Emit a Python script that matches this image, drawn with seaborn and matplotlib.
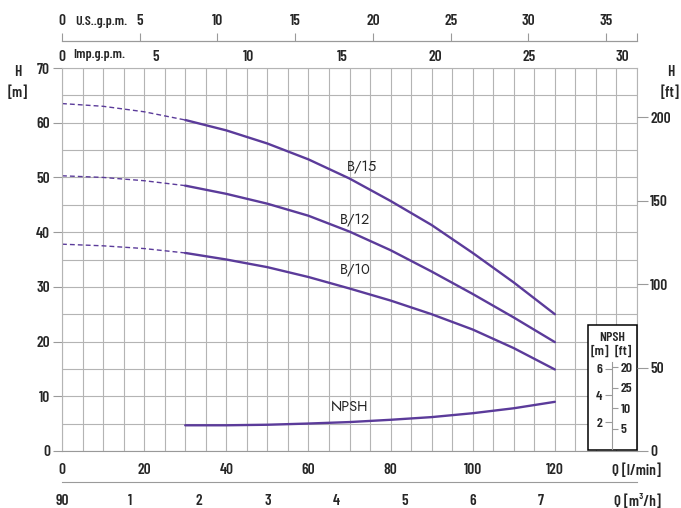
import numpy as np
import pandas as pd
import seaborn as sns
import matplotlib.pyplot as plt
from matplotlib.patches import Rectangle
from matplotlib.ticker import MultipleLocator

# pump curves, Q in l/min, H in m
q = [0, 10, 20, 30, 40, 50, 60, 70, 80, 90, 100, 110, 120]
h_b15 = [63.5, 63.0, 62.0, 60.5, 58.6, 56.2, 53.3, 49.8, 45.7, 41.3, 36.2, 30.8, 25.0]
h_b12 = [50.3, 50.0, 49.4, 48.5, 47.0, 45.2, 43.0, 40.1, 36.7, 32.8, 28.7, 24.4, 19.9]
h_b10 = [37.8, 37.5, 37.0, 36.2, 35.0, 33.6, 31.8, 29.7, 27.5, 25.0, 22.2, 18.8, 14.9]
models = ["B/15", "B/12", "B/10"]
label_pos = {"B/15": (73, 51.9), "B/12": (71.3, 42.2), "B/10": (71.3, 33.1)}
q_dash_end = 30

q_npsh = [30, 40, 50, 60, 70, 80, 90, 100, 110, 120]
npsh_m = [1.77, 1.77, 1.81, 1.90, 2.01, 2.18, 2.38, 2.67, 3.04, 3.52]

lmin_ticks = [0, 20, 40, 60, 80, 100, 120, 140]
lmin_labels = ["0", "20", "40", "60", "80", "100", "120", "Q [l/min]"]
m3h_ticks = [0, 1, 2, 3, 4, 5, 6, 7, 8, 8.4]
m3h_labels = ["90", "1", "2", "3", "4", "5", "6", "7", "", "Q [m³/h]"]
us_ticks = [0, 5, 10, 15, 20, 25, 30, 35, 140 / 3.785]
us_labels = ["0", "5", "10", "15", "20", "25", "30", "35", ""]
imp_ticks = [0, 5, 10, 15, 20, 25, 30, 140 / 4.546]
imp_labels = ["0", "5", "10", "15", "20", "25", "30", ""]
ft_ticks = [0, 50, 100, 150, 200]
npsh_m_ticks = [2, 4, 6]
npsh_ft_ticks = [5, 10, 15, 20]
npsh_ft_labels = ["5", "10", "25", "20"]

df = pd.DataFrame({
    "Q": q * 3,
    "H": h_b15 + h_b12 + h_b10,
    "model": [m for m in models for _ in q],
})

sns.set_style("white")
cond = ["Barlow Condensed", "Roboto Condensed", "Liberation Sans Narrow", "DejaVu Sans"]
wide = ["Jost", "Questrial", "DejaVu Sans"]
plt.rcParams["font.family"] = cond
plt.rcParams["font.weight"] = "semibold"
plt.rcParams["font.size"] = 11

W, H = 681, 508
fig = plt.figure(figsize=(W / 100, H / 100), dpi=100)
px = lambda x: x / W
py = lambda y: 1 - y / H

purple = "#5b3b9a"
grid_c = "#b4b4b4"
tick_c = "#9a9a9a"

ax = fig.add_axes([px(62), py(451), px(637) - px(62), py(68) - py(451)])
ax.set_xlim(0, 140)
ax.set_ylim(0, 70)
ax.xaxis.set_minor_locator(MultipleLocator(5))
ax.yaxis.set_minor_locator(MultipleLocator(5))
ax.set_xticks(lmin_ticks)
ax.set_xticklabels(lmin_labels)
ax.set_yticks(range(0, 71, 10))
ax.grid(True, which="both", color=grid_c, lw=0.8)
ax.set_axisbelow(True)
ax.tick_params(which="minor", length=0)
ax.tick_params(axis="x", which="major", length=4.5, pad=4.5, color=tick_c, width=0.8)
ax.tick_params(axis="y", which="major", length=6.5, pad=2, color=tick_c, width=0.8)
for s in ax.spines.values():
    s.set_color(grid_c)
    s.set_linewidth(0.8)
ax.spines["bottom"].set_color("#999999")

for m in models:
    d = df[df["model"] == m]
    sns.lineplot(data=d[d["Q"] <= q_dash_end], x="Q", y="H", ax=ax, color=purple,
                 lw=1.0, linestyle=(0, (3.5, 2.2)))
    sns.lineplot(data=d[d["Q"] >= q_dash_end], x="Q", y="H", ax=ax, color=purple, lw=1.7)
    ax.text(*label_pos[m], m, family=wide, fontweight="medium", fontsize=10.5,
            ha="center", va="center")
ax.set_xlabel("")
ax.set_ylabel("")

# right ft axis
ax_ft = ax.twinx()
ax_ft.set_ylim(0, 70 * 3.281)
ax_ft.set_yticks(ft_ticks)
ax_ft.tick_params(axis="y", length=8, pad=1.5, color=tick_c, width=0.8)
for s in ax_ft.spines.values():
    s.set_visible(False)

# NPSH scale, 0 m at y=449 px and 13.4 px per m
npsh_zero, npsh_ppm = 449, 13.4
ax_np = ax.twinx()
ax_np.set_ylim((npsh_zero - 451) / npsh_ppm, (npsh_zero - 68) / npsh_ppm)
ax_np.axis("off")
sns.lineplot(x=q_npsh, y=npsh_m, ax=ax_np, color=purple, lw=1.7)
ax.text(70.1, 8.0, "NPSH", family=wide, fontweight="medium", fontsize=10.5,
        ha="center", va="center")

box = Rectangle(((588 - 62) / 575 * 140, 0.1), 140 - (588 - 62) / 575 * 140,
                (451 - 326) / 383 * 70, facecolor="white", edgecolor="black",
                lw=1.1, zorder=3, clip_on=False)
ax.add_patch(box)

top_np = 361.7
ax_sm = fig.add_axes([px(612), py(npsh_zero), 1e-6, py(top_np) - py(npsh_zero)])
ax_sm.set_ylim(0, (npsh_zero - top_np) / npsh_ppm)
ax_sm.set_yticks(npsh_m_ticks)
ax_sm.set_xticks([])
ax_sm.tick_params(axis="y", length=5, pad=2, color=tick_c, width=0.8, labelsize=10)
for s in ["top", "bottom", "right"]:
    ax_sm.spines[s].set_visible(False)
ax_sm.spines["left"].set_color(tick_c)
ax_sm.spines["left"].set_linewidth(0.8)
ax_sf = ax_sm.twinx()
ax_sf.set_ylim(0, (npsh_zero - top_np) / npsh_ppm * 3.281)
ax_sf.set_yticks(npsh_ft_ticks)
ax_sf.set_yticklabels(npsh_ft_labels)
ax_sf.tick_params(axis="y", length=4.5, pad=1.5, color=tick_c, width=0.8, labelsize=10)
for s in ax_sf.spines.values():
    s.set_visible(False)
fig.text(px(612), py(338), "NPSH", ha="center", va="center", fontsize=10)
fig.text(px(600), py(352), "[m]", ha="center", va="center", fontsize=10)
fig.text(px(623), py(352), "[ft]", ha="center", va="center", fontsize=10)

# top gpm scales
ax_us = fig.add_axes([px(62), py(41), px(637) - px(62), 1e-6])
ax_us.set_xlim(0, 140 / 3.785)
ax_us.set_xticks(us_ticks)
ax_us.set_xticklabels(us_labels)
ax_us.xaxis.tick_top()
ax_us.set_yticks([])
ax_us.tick_params(axis="x", length=5.5, pad=3.5, color=tick_c, width=0.8)
for s in ["left", "right", "bottom"]:
    ax_us.spines[s].set_visible(False)
ax_us.spines["top"].set_color(tick_c)
ax_us.patch.set_alpha(0)

ax_imp = fig.add_axes([px(62), py(41), px(637) - px(62), 1e-6])
ax_imp.set_xlim(0, 140 / 4.546)
ax_imp.set_xticks(imp_ticks)
ax_imp.set_xticklabels(imp_labels)
ax_imp.set_yticks([])
ax_imp.tick_params(axis="x", length=4.5, pad=2, color=tick_c, width=0.8)
for s in ["left", "right", "top"]:
    ax_imp.spines[s].set_visible(False)
ax_imp.spines["bottom"].set_color(tick_c)
ax_imp.patch.set_alpha(0)
fig.text(px(75), py(22), "U.S..g.p.m.", ha="left", va="center", fontsize=10)
fig.text(px(73), py(55), "Imp.g.p.m.", ha="left", va="center", fontsize=10)

# bottom m3/h scale
ax_m3 = fig.add_axes([px(62), py(482), px(637) - px(62), 1e-6])
ax_m3.set_xlim(0, 140 / 16.667)
ax_m3.set_xticks(m3h_ticks)
ax_m3.set_xticklabels(m3h_labels)
ax_m3.set_yticks([])
ax_m3.tick_params(axis="x", length=4, pad=4.5, color=tick_c, width=0.8)
for s in ["left", "right", "top"]:
    ax_m3.spines[s].set_visible(False)
ax_m3.spines["bottom"].set_color(tick_c)
ax_m3.patch.set_alpha(0)

fig.text(px(18), py(72), "H", ha="center", va="center")
fig.text(px(18), py(93), "[m]", ha="center", va="center")
fig.text(px(671), py(72), "H", ha="center", va="center")
fig.text(px(670), py(93), "[ft]", ha="center", va="center")

fig.savefig("out.png", dpi=100)
